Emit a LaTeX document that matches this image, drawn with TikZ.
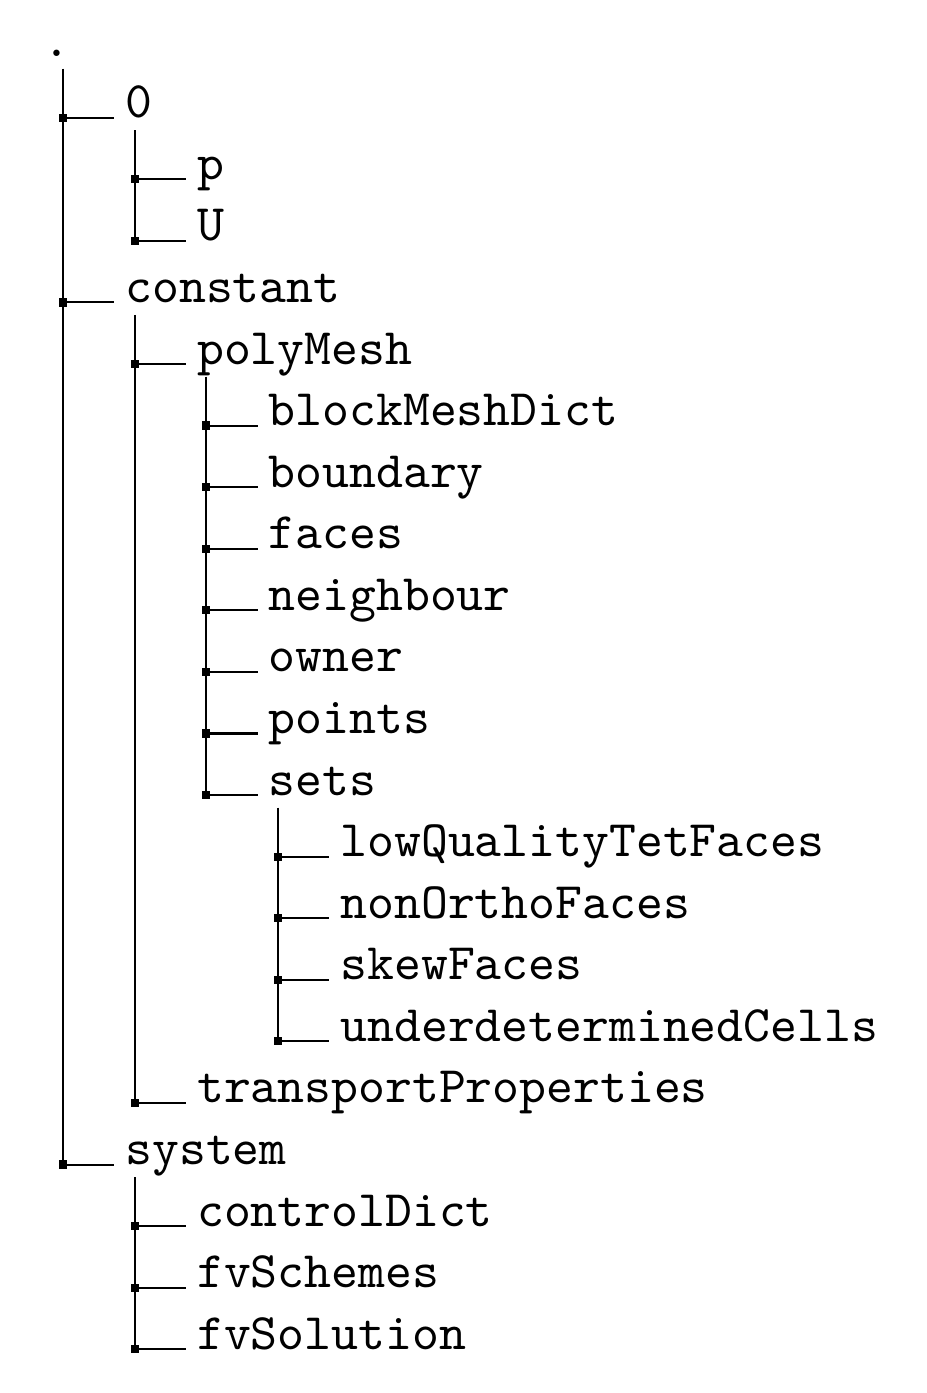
\documentclass[tikz,border=0pt]{standalone}
\tikzset{
  entry/.style={anchor=base west, inner sep=0pt, font=\ttfamily},
  trunk/.style={line width=0.4pt, draw=black},
}
\newcommand\twig[1]{%
  \draw[trunk] ([xshift=-12pt]#1.base west) -- ([xshift=-2pt]#1.base west);
  \fill ([shift={(-12.8pt,-0.8pt)}]#1.base west) rectangle ++(1.6pt,1.6pt);}
\newcommand\stem[2]{%
  \draw[trunk] ([shift={(2pt,-2.44pt)}]#1.base west) -- ([xshift=-12pt]#2.base west);}
\begin{document}
\begin{tikzpicture}[x=1pt,y=-1pt]
\useasboundingbox (0,0) rectangle (181.05,272.07);
\node[entry] (root) at (8.25,10.96) {.};
\node[entry] (n0) at (24.3,22.99) {0};
\node[entry] (p) at (38.3,35.01) {p};
\node[entry] (U) at (38.3,47.04) {U};
\node[entry] (constant) at (24.3,59.07) {constant};
\node[entry] (polyMesh) at (38.3,71.10) {polyMesh};
\node[entry] (blockMeshDict) at (52.3,83.12) {blockMeshDict};
\node[entry] (boundary) at (52.3,95.15) {boundary};
\node[entry] (faces) at (52.3,107.18) {faces};
\node[entry] (neighbour) at (52.3,119.20) {neighbour};
\node[entry] (owner) at (52.3,131.23) {owner};
\node[entry] (points) at (52.3,143.26) {points};
\node[entry] (sets) at (52.3,155.28) {sets};
\node[entry] (lowQ) at (66.3,167.31) {lowQualityTetFaces};
\node[entry] (nonO) at (66.3,179.34) {nonOrthoFaces};
\node[entry] (skew) at (66.3,191.37) {skewFaces};
\node[entry] (under) at (66.3,203.39) {underdeterminedCells};
\node[entry] (transport) at (38.3,215.42) {transportProperties};
\node[entry] (system) at (24.3,227.45) {system};
\node[entry] (controlDict) at (38.3,239.47) {controlDict};
\node[entry] (fvSchemes) at (38.3,251.50) {fvSchemes};
\node[entry] (fvSolution) at (38.3,263.53) {fvSolution};
% root trunk
\draw[trunk] ([shift={(4.05pt,-2.44pt)}]root.base west) -- ([xshift=-12pt]system.base west);
\stem{n0}{U}
\stem{constant}{transport}
\stem{polyMesh}{sets}
\stem{sets}{under}
\stem{system}{fvSolution}
\twig{n0}\twig{constant}\twig{system}
\twig{p}\twig{U}
\twig{polyMesh}\twig{transport}
\twig{blockMeshDict}\twig{boundary}\twig{faces}\twig{neighbour}\twig{owner}\twig{points}\twig{sets}
\twig{lowQ}\twig{nonO}\twig{skew}\twig{under}
\twig{controlDict}\twig{fvSchemes}\twig{fvSolution}
\end{tikzpicture}
\end{document}
